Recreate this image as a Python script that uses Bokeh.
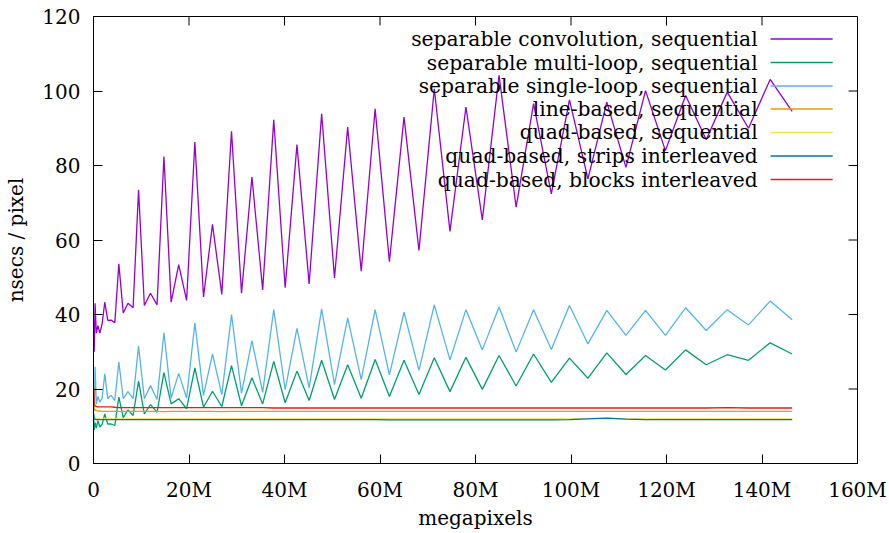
from bokeh.plotting import figure
from bokeh.models import Label, FixedTicker, Range1d
from bokeh.embed import file_html
from bokeh.resources import INLINE

# ---- data (megapixels on x, nsecs/pixel on y) ----
megapixels = [0.037, 0.147, 0.332, 0.590, 0.922, 1.327, 1.806, 2.359, 2.986, 3.686,
              4.461, 5.308, 6.230, 7.225, 8.294, 9.437, 10.65, 11.94, 13.31, 14.75,
              16.26, 17.84, 19.50, 21.23, 23.04, 24.92, 26.87, 28.90, 31.00, 33.18,
              35.43, 37.75, 40.14, 42.61, 45.16, 47.78, 50.47, 53.23, 56.07, 58.98,
              61.97, 65.03, 68.16, 71.37, 74.65, 78.00, 81.43, 84.93, 88.51, 92.16,
              95.88, 99.68, 103.55, 107.50, 111.51, 115.61, 119.77, 124.01, 128.32, 132.71,
              137.17, 141.71, 146.32]

sep_convolution = [38, 30, 43, 35, 37, 35, 37.5, 43.3, 38.4, 38.5,
                   37.8, 53.6, 40.4, 43.0, 41.8, 73.5, 42.4, 45.7, 42.6, 82.4,
                   43.3, 53.4, 43.8, 86.3, 44.7, 64.2, 45.4, 89.2, 45.7, 76.9,
                   46.6, 92.3, 47.2, 85.6, 48.2, 93.9, 49.8, 90.3, 51.6, 95.2,
                   54.2, 93.0, 57.2, 100.6, 62.3, 95.7, 65.4, 104.2, 68.8, 96.6,
                   72.4, 97.6, 76.4, 97.0, 79.5, 100.1, 84.0, 98.8, 86.9, 99.7,
                   90.0, 103.1, 94.5]

sep_multi_loop = [12, 9, 11, 9.5, 11.5, 9.8, 10.5, 13.3, 10.6, 10.6,
                  10.2, 17.8, 12.3, 14.4, 12.9, 22.1, 13.3, 15.8, 13.8, 24.4,
                  16.0, 17.4, 14.7, 25.7, 15.1, 19.4, 15.3, 26.3, 15.5, 23.0,
                  16.0, 27.4, 16.3, 24.8, 16.9, 27.7, 17.2, 26.5, 17.5, 27.9,
                  18.0, 27.7, 18.5, 28.4, 19.3, 28.5, 19.9, 29.0, 20.8, 29.4,
                  21.8, 28.3, 22.9, 29.7, 23.9, 29.0, 25.1, 30.5, 26.5, 29.2,
                  27.7, 32.4, 29.4]

sep_single_loop = [20, 14, 26, 16, 18, 16.5, 17.5, 24.1, 17.4, 18.3,
                   16.9, 27.2, 17.4, 19.3, 17.4, 31.5, 17.4, 20.9, 17.2, 35.1,
                   17.6, 24.2, 17.6, 37.7, 18.3, 29.4, 18.5, 40.0, 18.9, 33.0,
                   19.1, 41.3, 19.8, 36.3, 20.3, 41.5, 21.2, 39.1, 22.5, 41.3,
                   23.8, 40.6, 25.0, 42.6, 27.8, 41.3, 30.5, 42.0, 29.9, 41.3,
                   30.6, 42.4, 32.1, 41.1, 34.4, 41.1, 34.4, 41.8, 35.7, 41.3,
                   37.2, 43.6, 38.6]

line_based = [21.0, 14.8, 14.4, 14.2, 14.1, 14.1, 14.0, 14.0, 14.0, 14.0,
              14.0, 14.0, 14.0, 14.0, 14.0, 14.0, 14.0, 14.0, 14.0, 13.9,
              14.0, 14.0, 14.0, 14.0, 14.0, 14.0, 13.9, 14.0, 14.0, 14.0,
              14.0, 14.0, 14.0, 14.0, 14.0, 14.0, 14.0, 14.0, 14.0, 14.0,
              14.0, 14.0, 14.0, 14.0, 14.0, 14.0, 14.0, 14.0, 14.0, 14.0,
              14.0, 14.0, 14.0, 14.0, 14.0, 14.0, 14.0, 14.0, 14.0, 14.0,
              14.0, 14.0, 14.0]

quad_sequential = [12.6, 12.2, 12.1, 12.0, 12.0, 12.0, 12.0, 12.0, 12.0, 12.0,
                   12.0, 12.0, 12.0, 12.0, 12.0, 12.0, 12.0, 12.0, 12.0, 12.0,
                   12.0, 12.0, 12.0, 12.0, 12.0, 12.0, 12.0, 12.0, 12.0, 12.0,
                   12.0, 12.0, 12.0, 12.0, 12.0, 12.0, 12.0, 12.0, 12.0, 12.0,
                   12.0, 12.0, 12.0, 12.0, 12.0, 12.0, 12.0, 12.0, 12.0, 12.0,
                   12.0, 12.0, 12.1, 12.1, 12.0, 12.0, 12.0, 12.0, 12.0, 12.0,
                   12.0, 12.0, 12.0]

quad_strips = [13.4, 12.0, 11.9, 11.8, 11.8, 11.8, 11.8, 11.8, 11.8, 11.8,
               11.8, 11.8, 11.8, 11.8, 11.8, 11.8, 11.8, 11.8, 11.8, 11.8,
               11.8, 11.8, 11.8, 11.8, 11.8, 11.8, 11.8, 11.8, 11.8, 11.8,
               11.8, 11.8, 11.8, 11.8, 11.8, 11.8, 11.8, 11.8, 11.8, 11.8,
               11.7, 11.7, 11.7, 11.7, 11.7, 11.7, 11.7, 11.7, 11.7, 11.7,
               11.7, 11.8, 12.0, 12.2, 11.9, 11.8, 11.8, 11.8, 11.8, 11.8,
               11.8, 11.8, 11.8]

quad_blocks = [20.0, 16.0, 15.5, 15.3, 15.2, 15.2, 15.2, 15.2, 15.2, 15.2,
               15.1, 15.0, 15.0, 15.0, 15.0, 15.0, 15.0, 15.0, 15.0, 15.0,
               15.0, 15.0, 15.0, 15.0, 15.0, 15.0, 15.0, 15.0, 15.0, 15.0,
               15.0, 14.9, 14.9, 14.9, 14.9, 14.9, 14.9, 14.9, 14.9, 14.9,
               14.9, 14.9, 14.9, 14.9, 14.9, 14.9, 14.9, 14.9, 14.9, 14.9,
               14.9, 14.9, 14.9, 14.9, 14.9, 14.9, 14.9, 14.9, 14.9, 15.0,
               14.9, 14.9, 14.9]

series_names = ["separable convolution, sequential",
                "separable multi-loop, sequential",
                "separable single-loop, sequential",
                "line-based, sequential",
                "quad-based, sequential",
                "quad-based, strips interleaved",
                "quad-based, blocks interleaved"]
series_values = [sep_convolution, sep_multi_loop, sep_single_loop, line_based,
                 quad_sequential, quad_strips, quad_blocks]
series_colors = ["#9400d3", "#009e73", "#56b4e9", "#e69f00", "#f0e442", "#0072b2", "#e51e10"]

x_ticks = [0, 20, 40, 60, 80, 100, 120, 140, 160]
x_tick_labels = ["0", "20M", "40M", "60M", "80M", "100M", "120M", "140M", "160M"]
y_ticks = [0, 20, 40, 60, 80, 100, 120]

X_MAX, Y_MAX = 160, 120
FONT = "DejaVu Serif"
FS = "20px"

p = figure(width=889, height=533, output_backend="svg", toolbar_location=None,
           x_range=Range1d(0, X_MAX), y_range=Range1d(0, Y_MAX),
           min_border_left=93, min_border_right=32, min_border_top=16,
           min_border_bottom=70, background_fill_color="white",
           border_fill_color="white")
p.grid.visible = False
p.outline_line_color = "black"
p.outline_line_width = 1

for ax in (p.xaxis[0], p.yaxis[0]):
    ax.major_tick_in = 9
    ax.major_tick_out = 0
    ax.minor_tick_line_color = None
    ax.axis_line_color = "black"
    ax.major_tick_line_color = "black"
    ax.major_label_text_font = FONT
    ax.major_label_text_font_size = FS
    ax.major_label_text_color = "black"
    ax.axis_label_text_font = FONT
    ax.axis_label_text_font_size = FS
    ax.axis_label_text_font_style = "normal"
    ax.axis_label_text_color = "black"

p.xaxis.ticker = FixedTicker(ticks=x_ticks)
p.xaxis.major_label_overrides = {t: l for t, l in zip(x_ticks, x_tick_labels)}
p.xaxis.axis_label = "megapixels"
p.xaxis.major_label_standoff = 14
p.xaxis.axis_label_standoff = 1
p.yaxis.ticker = FixedTicker(ticks=y_ticks)
p.yaxis.axis_label = "nsecs / pixel"
p.yaxis.major_label_standoff = 13
p.yaxis.axis_label_standoff = 11

# mirrored inward ticks on the top and right border (gnuplot style), 9 px long
tick_dy = 9 / 3.725   # 9 px in y data units
tick_dx = 9 / 4.775   # 9 px in x data units
p.segment(x0=x_ticks, y0=[Y_MAX] * len(x_ticks), x1=x_ticks,
          y1=[Y_MAX - tick_dy] * len(x_ticks), line_color="black", line_width=1)
p.segment(x0=[X_MAX] * len(y_ticks), y0=y_ticks, x1=[X_MAX - tick_dx] * len(y_ticks),
          y1=y_ticks, line_color="black", line_width=1)

for vals, col in zip(series_values, series_colors):
    p.line(megapixels, vals, line_color=col, line_width=1.3)

# gnuplot-style key: text right-aligned, sample line to its right
key_rows = [113.96, 107.65, 101.34, 95.17, 88.86, 82.55, 76.24]
for name, col, yr in zip(series_names, series_colors, key_rows):
    p.line([141.8, 154.8], [yr, yr], line_color=col, line_width=1.3)
    p.add_layout(Label(x=139.1, y=yr, text=name, text_align="right",
                       text_baseline="middle", text_font=FONT,
                       text_font_size="20.3px", text_color="black"))

open("out.html", "w").write(file_html(p, INLINE))
